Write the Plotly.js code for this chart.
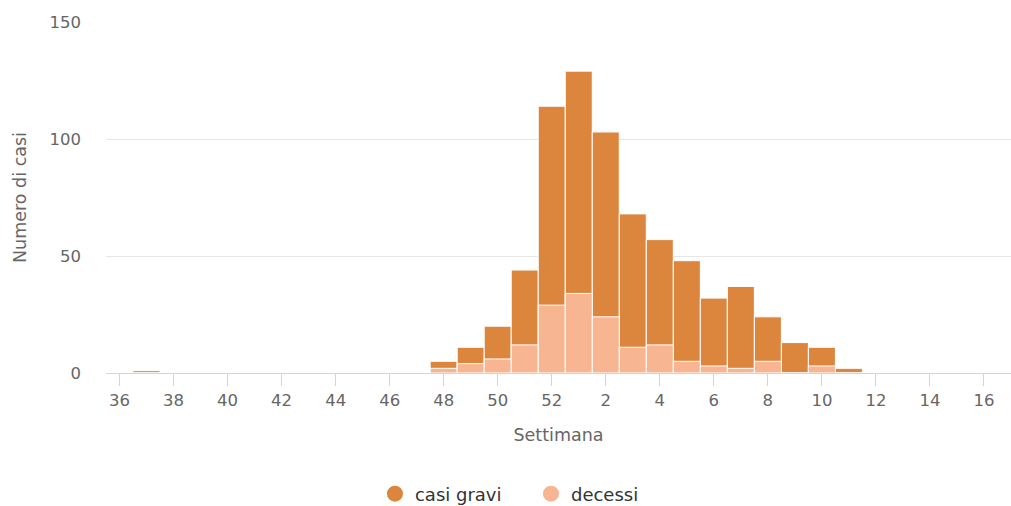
<!DOCTYPE html>
<html>
<head>
<meta charset="utf-8">
<script src="https://cdn.plot.ly/plotly-3.0.1.min.js"></script>
<style>html,body{margin:0;padding:0;background:#fff;}#chart{width:1011px;height:506px;}</style>
</head>
<body>
<div id="chart"></div>
<script>
const weeks = ['36','37','38','39','40','41','42','43','44','45','46','47','48','49','50','51','52',
               '1','2','3','4','5','6','7','8','9','10','11','12','13','14','15','16'];
const casiGravi = [0,1,0,0,0,0,0,0,0,0,0,0,5,11,20,44,114,
                   129,103,68,57,48,32,37,24,13,11,2,0,0,0,0,0];
const decessi   = [0,0,0,0,0,0,0,0,0,0,0,0,2,4,6,12,29,
                   34,24,11,12,5,3,2,5,0,3,0,0,0,0,0,0];
const tickWeeks = ['36','38','40','42','44','46','48','50','52','2','4','6','8','10','12','14','16'];
const seriesNames = ['casi gravi','decessi'];
const colors = ['#dc863d','#f8b591'];

const font = 'DejaVu Sans, sans-serif';
const traces = [
  {type:'bar', x:weeks, y:casiGravi, name:seriesNames[0], showlegend:false,
   marker:{color:colors[0], line:{color:'#ffffff', width:1}}, width:1},
  {type:'bar', x:weeks, y:decessi, name:seriesNames[1], showlegend:false,
   marker:{color:colors[1], line:{color:'#ffffff', width:1}}, width:1},
  {type:'scatter', mode:'markers', x:[null], y:[null], name:seriesNames[0],
   marker:{symbol:'circle', size:18, color:colors[0]}},
  {type:'scatter', mode:'markers', x:[null], y:[null], name:seriesNames[1],
   marker:{symbol:'circle', size:18, color:colors[1]}}
];
const layout = {
  width:1011, height:506,
  margin:{l:106, r:0, t:22, b:133},
  paper_bgcolor:'#fff', plot_bgcolor:'#fff',
  barmode:'overlay', bargap:0,
  font:{family:font, color:'#666'},
  showlegend:true,
  legend:{orientation:'h', x:0.2972, xanchor:'left', yref:'container', y:0.0237, yanchor:'middle',
          entrywidth:111, entrywidthmode:'pixels',
          font:{size:18, color:'#333', family:font}, itemsizing:'trace', traceorder:'normal'},
  xaxis:{type:'category', categoryorder:'array', categoryarray:weeks, automargin:false,
         range:[-0.5, 33.0], tickmode:'array', tickvals:tickWeeks, ticktext:tickWeeks,
         ticks:'outside', ticklen:12, tickcolor:'#ccd6eb', tickwidth:1,
         showline:true, linecolor:'#ccd6eb', linewidth:1, showgrid:false, zeroline:false,
         tickfont:{size:16.5, color:'#666'},
         title:{text:'Settimana', font:{size:17.5, color:'#666'}, standoff:19}},
  yaxis:{range:[0,150], tickvals:[0,50,100,150], showgrid:true, gridcolor:'#e6e6e6', automargin:false,
         zeroline:false, showline:false, ticks:'', ticklabelstandoff:24,
         tickfont:{size:16.5, color:'#666'},
         title:{text:'Numero di casi', font:{size:17.5, color:'#666'}, standoff:18}}
};
Plotly.newPlot('chart', traces, layout, {displayModeBar:false, staticPlot:true});
</script>
</body>
</html>
